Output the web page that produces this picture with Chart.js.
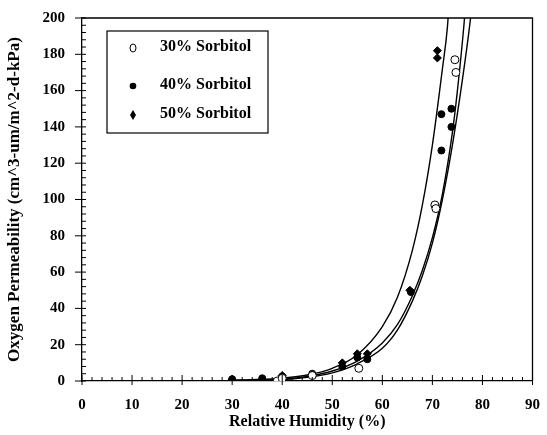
<!DOCTYPE html>
<html>
<head>
<meta charset="utf-8">
<script src="https://cdn.jsdelivr.net/npm/chart.js@4/dist/chart.umd.min.js"></script>
<style>
  html, body { margin: 0; padding: 0; background: #fff; }
  #wrap { width: 547px; height: 435px; }
</style>
</head>
<body>
<div id="wrap"><canvas id="chart"></canvas></div>
<script>
var rh30 = [39, 40, 46, 55.3, 70.5, 70.7, 74.5, 74.7];
var op30 = [0, 1.5, 3, 7, 97, 95, 177, 170];

var rh40 = [30, 36, 40, 46, 52, 55, 57, 65.7, 71.8, 71.8, 73.8, 73.8];
var op40 = [1, 1.5, 2.5, 4, 8, 13, 12, 49, 147, 127, 150, 140];

var rh50 = [30, 36, 40, 46, 52, 55, 57, 65.5, 71, 71];
var op50 = [1, 1, 3, 3.5, 10, 15, 15, 50, 182, 178];

// fitted curves
var fitAx = [30, 35, 40, 45, 50, 55, 60, 63, 66, 68, 70, 72, 73, 73.6];
var fitAy = [0.4, 0.8, 1.6, 3.3, 7, 14.5, 30, 46, 72, 97, 130, 172, 195, 220];
var fitBx = [30, 35, 40, 45, 50, 55, 60, 63, 66, 68, 70, 72, 74, 75, 76.3, 77];
var fitBy = [0.3, 0.5, 1, 2.5, 5.5, 11, 21, 31, 47, 61, 79, 103, 137, 160, 196, 220];
var fitCx = [30, 35, 40, 45, 50, 55, 60, 63, 66, 68, 70, 72, 74, 76, 77.5, 78.2];
var fitCy = [0.2, 0.4, 0.8, 2, 4.5, 9.5, 18, 28, 44, 58, 76, 100, 130, 166, 197, 215];

var legendLabels = ['30% Sorbitol', '40% Sorbitol', '50% Sorbitol'];

function pts(xs, ys) {
  return xs.map(function (x, i) { return {x: x, y: ys[i]}; });
}

var serif = "'Liberation Serif', 'DejaVu Serif', serif";

function curve(xs, ys) {
  return {
    type: 'line', data: pts(xs, ys), showLine: true, pointRadius: 0,
    borderColor: '#000', borderWidth: 1.4, cubicInterpolationMode: 'monotone',
    fill: false
  };
}

// frame + ticks pointing in
var frameTicks = {
  id: 'frameTicks',
  afterDraw: function (chart) {
    var c = chart.ctx, a = chart.chartArea;
    var xs = chart.scales.x, ys = chart.scales.y;
    c.save();
    c.strokeStyle = '#000';
    c.lineWidth = 1.3;
    c.beginPath();
    c.moveTo(a.left, a.top); c.lineTo(a.right, a.top); c.lineTo(a.right, a.bottom);
    c.stroke();
    c.lineWidth = 1;
    c.beginPath();
    for (var v = 0; v <= 90; v += 2) {
      var px = xs.getPixelForValue(v);
      var major = v % 10 === 0;
      c.moveTo(px, a.bottom + (major ? 4 : 0));
      c.lineTo(px, a.bottom - (major ? 6 : 4));
    }
    for (var w = 0; w <= 200; w += 4) {
      var py = ys.getPixelForValue(w);
      var maj = w % 20 === 0;
      c.moveTo(a.left - (maj ? 7 : 0), py);
      c.lineTo(a.left + 4, py);
    }
    c.stroke();
    c.restore();
  }
};

// boxed legend inside the plot
var boxLegend = {
  id: 'boxLegend',
  afterDraw: function (chart) {
    var c = chart.ctx;
    c.save();
    c.strokeStyle = '#000';
    c.lineWidth = 1.2;
    c.strokeRect(107, 31, 161, 102);
    c.font = 'bold 16px ' + serif;
    c.fillStyle = '#000';
    c.textBaseline = 'middle';
    var rows = [47, 85, 114];
    for (var i = 0; i < 3; i++) {
      var y = rows[i], x = 133;
      c.beginPath();
      if (i === 0) {
        c.lineWidth = 1;
        c.ellipse(x, y + 1, 3, 4, 0, 0, Math.PI * 2);
        c.stroke();
      } else if (i === 1) {
        c.arc(x, y + 1, 3.3, 0, Math.PI * 2);
        c.fill();
      } else {
        c.moveTo(x, y - 4); c.lineTo(x + 3, y + 1); c.lineTo(x, y + 6); c.lineTo(x - 3, y + 1);
        c.closePath();
        c.fill();
      }
      c.fillText(legendLabels[i], 160, y);
    }
    c.restore();
  }
};

new Chart(document.getElementById('chart'), {
  type: 'scatter',
  data: {
    datasets: [
      {label: legendLabels[0], data: pts(rh30, op30), pointStyle: 'circle', pointRadius: 4,
        borderColor: '#000', backgroundColor: '#fff', borderWidth: 1},
      {label: legendLabels[1], data: pts(rh40, op40), pointStyle: 'circle', pointRadius: 3.5,
        borderColor: '#000', backgroundColor: '#000', borderWidth: 1},
      {label: legendLabels[2], data: pts(rh50, op50), pointStyle: 'rectRot', pointRadius: 4,
        borderColor: '#000', backgroundColor: '#000', borderWidth: 1},
      curve(fitAx, fitAy),
      curve(fitBx, fitBy),
      curve(fitCx, fitCy)
    ]
  },
  options: {
    responsive: true,
    maintainAspectRatio: false,
    animation: false,
    layout: {padding: {left: 0, top: 18, right: 10, bottom: 0}},
    plugins: {legend: {display: false}, tooltip: {enabled: false}},
    scales: {
      x: {
        type: 'linear', min: 0, max: 90,
        afterFit: function (s) { s.height = 54; },
        grid: {display: false},
        border: {display: true, color: '#000', width: 1.3},
        ticks: {stepSize: 10, color: '#000', padding: 7, maxRotation: 0,
          font: {family: serif, size: 15, weight: 'bold'}},
        title: {display: true, text: 'Relative Humidity (%)', color: '#000', padding: {top: 3},
          font: {family: serif, size: 16, weight: 'bold'}}
      },
      y: {
        type: 'linear', min: 0, max: 200,
        afterFit: function (s) { s.width = 82; },
        grid: {display: false},
        border: {display: true, color: '#000', width: 1.3},
        ticks: {stepSize: 20, color: '#000', padding: 9,
          font: {family: serif, size: 15, weight: 'bold'}},
        title: {display: true, text: 'Oxygen Permeability (cm^3-um/m^2-d-kPa)', color: '#000',
          padding: {bottom: 0},
          font: {family: serif, size: 17, weight: 'bold'}}
      }
    }
  },
  plugins: [frameTicks, boxLegend]
});
</script>
</body>
</html>
